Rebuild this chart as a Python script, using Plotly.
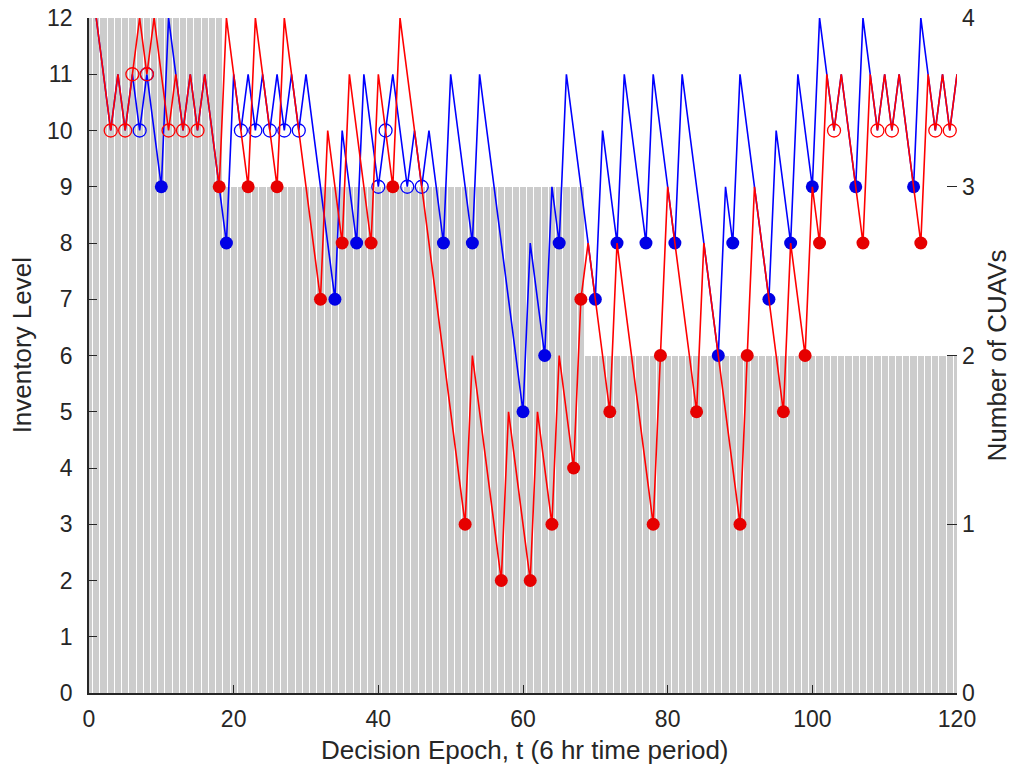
import plotly.graph_objects as go

# ---------------- data ----------------
bar_epochs = list(range(0, 121))
cuavs = [4, 4, 4, 4, 4, 4, 4, 4, 4, 4, 4, 4, 4, 4, 4, 4, 4, 4, 4,
         3, 3, 3, 3, 3, 3, 3, 3, 3, 3, 3, 3, 3, 3, 3, 3, 3, 3, 3, 3,
         3, 3, 3, 3, 3, 3, 3, 3, 3, 3, 3, 3, 3, 3, 3, 3, 3, 3, 3, 3,
         3, 3, 3, 3, 3, 3, 3, 3, 3, 3,
         2, 2, 2, 2, 2, 2, 2, 2, 2, 2, 2, 2, 2, 2, 2, 2, 2, 2, 2, 2,
         2, 2, 2, 2, 2, 2, 2, 2, 2, 2, 2, 2, 2, 2, 2, 2, 2, 2, 2, 2,
         2, 2, 2, 2, 2, 2, 2, 2, 2, 2, 2, 2]

epochs = list(range(1, 121))
red_level = [12, 11, 10, 11, 10, 11, 12, 11, 12, 11,    # 1-10
             10, 11, 10, 11, 10, 11, 10, 9, 12, 11,     # 11-20
             10, 9, 12, 11, 10, 9, 12, 11, 10, 9,       # 21-30
             8, 7, 10, 9, 8, 11, 10, 9, 8, 11,          # 31-40
             10, 9, 12, 11, 10, 9, 8, 7, 6, 5,          # 41-50
             4, 3, 6, 5, 4, 3, 2, 5, 4, 3,              # 51-60
             2, 5, 4, 3, 6, 5, 4, 7, 8, 7,              # 61-70
             6, 5, 8, 7, 6, 5, 4, 3, 6, 9,              # 71-80
             8, 7, 6, 5, 8, 7, 6, 5, 4, 3,              # 81-90
             6, 9, 8, 7, 6, 5, 8, 7, 6, 9,              # 91-100
             8, 11, 10, 11, 10, 9, 8, 11, 10, 11,       # 101-110
             10, 11, 10, 9, 8, 11, 10, 11, 10, 11]      # 111-120

blue_level = [12, 11, 10, 11, 10, 11, 10, 11, 10, 9,    # 1-10
              12, 11, 10, 11, 10, 11, 10, 9, 8, 11,     # 11-20
              10, 11, 10, 11, 10, 11, 10, 11, 10, 11,   # 21-30
              10, 9, 8, 7, 10, 9, 8, 11, 10, 9,         # 31-40
              10, 11, 10, 9, 10, 9, 10, 9, 8, 11,       # 41-50
              10, 9, 8, 11, 10, 9, 8, 7, 6, 5,          # 51-60
              8, 7, 6, 9, 8, 11, 10, 9, 8, 7,           # 61-70
              10, 9, 8, 11, 10, 9, 8, 11, 10, 9,        # 71-80
              8, 11, 10, 9, 8, 7, 6, 9, 8, 11,          # 81-90
              10, 9, 8, 7, 10, 9, 8, 11, 10, 9,         # 91-100
              12, 11, 10, 11, 10, 9, 12, 11, 10, 11,    # 101-110
              10, 11, 10, 9, 12, 11, 10, 11, 10, 11]    # 111-120

red_filled_t = [18, 22, 26, 32, 35, 39, 42, 52, 57, 61, 64, 67, 68, 72, 78,
                79, 84, 90, 91, 96, 99, 101, 107, 115]
red_open_t = [3, 5, 6, 8, 11, 13, 15, 103, 109, 111, 117, 119]
blue_filled_t = [10, 19, 34, 37, 49, 53, 60, 63, 65, 70, 73, 77, 81, 87, 89,
                 94, 97, 100, 106, 114]
blue_open_t = [7, 8, 21, 23, 25, 27, 29, 40, 41, 44, 46]

x_title = "Decision Epoch, t (6 hr time period)"
y_title = "Inventory Level"
y2_title = "Number of CUAVs"

# ---------------- styling ----------------
RED = "#ff0000"
BLUE = "#0000ff"
FONT = "Liberation Sans, Arial, sans-serif"
INK = "#262626"


def pick(level, ts):
    return [level[epochs.index(t)] for t in ts]


fig = go.Figure()

fig.add_trace(go.Bar(x=bar_epochs, y=cuavs, width=0.86, yaxis="y",
                     marker=dict(color="#cccccc", line=dict(width=0)),
                     hoverinfo="skip"))

fig.add_trace(go.Scatter(x=epochs, y=blue_level, yaxis="y2", mode="lines",
                         line=dict(color=BLUE, width=1.6)))
fig.add_trace(go.Scatter(x=blue_filled_t, y=pick(blue_level, blue_filled_t),
                         yaxis="y2", mode="markers",
                         marker=dict(symbol="circle", size=13, color="#0000e6")))
fig.add_trace(go.Scatter(x=blue_open_t, y=pick(blue_level, blue_open_t),
                         yaxis="y2", mode="markers",
                         marker=dict(symbol="circle-open", size=13, color=BLUE,
                                     line=dict(width=1.3))))

fig.add_trace(go.Scatter(x=epochs, y=red_level, yaxis="y2", mode="lines",
                         line=dict(color=RED, width=1.6)))
fig.add_trace(go.Scatter(x=red_filled_t, y=pick(red_level, red_filled_t),
                         yaxis="y2", mode="markers",
                         marker=dict(symbol="circle", size=13, color="#e60000")))
fig.add_trace(go.Scatter(x=red_open_t, y=pick(red_level, red_open_t),
                         yaxis="y2", mode="markers",
                         marker=dict(symbol="circle-open", size=13, color=RED,
                                     line=dict(width=1.3))))

common = dict(showgrid=False, zeroline=False, automargin=False,
              tickcolor=INK, tickwidth=1.2)

fig.update_layout(
    width=1013, height=769,
    margin=dict(l=89, r=56, t=18, b=76),
    plot_bgcolor="white", paper_bgcolor="white",
    showlegend=False, bargap=0,
    font=dict(family=FONT, size=23, color=INK),
    xaxis=dict(range=[0, 120], tickvals=[0, 20, 40, 60, 80, 100, 120],
               ticks="inside", ticklen=8,
               showline=True, linecolor=INK, linewidth=1.5,
               ticklabelstandoff=5, **common),
    yaxis=dict(range=[0, 4], side="right", tickvals=[0, 1, 2, 3, 4],
               ticks="inside", ticklen=10,
               showline=False, ticklabelstandoff=4, **common),
    yaxis2=dict(range=[0, 12], side="left", overlaying="y",
                tickvals=list(range(0, 13)),
                ticks="inside", ticklen=8,
                showline=True, linecolor=INK, linewidth=1.5,
                ticklabelstandoff=10, **common),
    annotations=[
        dict(text=x_title, xref="paper", yref="paper", x=0.5024, y=-0.0844,
             showarrow=False, font=dict(size=26), xanchor="center", yanchor="middle"),
        dict(text=y_title, xref="paper", yref="paper", x=-0.0772, y=0.515,
             showarrow=False, font=dict(size=26), textangle=-90,
             xanchor="center", yanchor="middle"),
        dict(text=y2_title, xref="paper", yref="paper", x=1.046, y=0.50,
             showarrow=False, font=dict(size=26), textangle=-90,
             xanchor="center", yanchor="middle"),
    ],
)

fig.write_html("out.html",
               config={"displayModeBar": False},
               post_script="document.body.style.margin='0px';"
                           "document.body.style.overflow='hidden';")
